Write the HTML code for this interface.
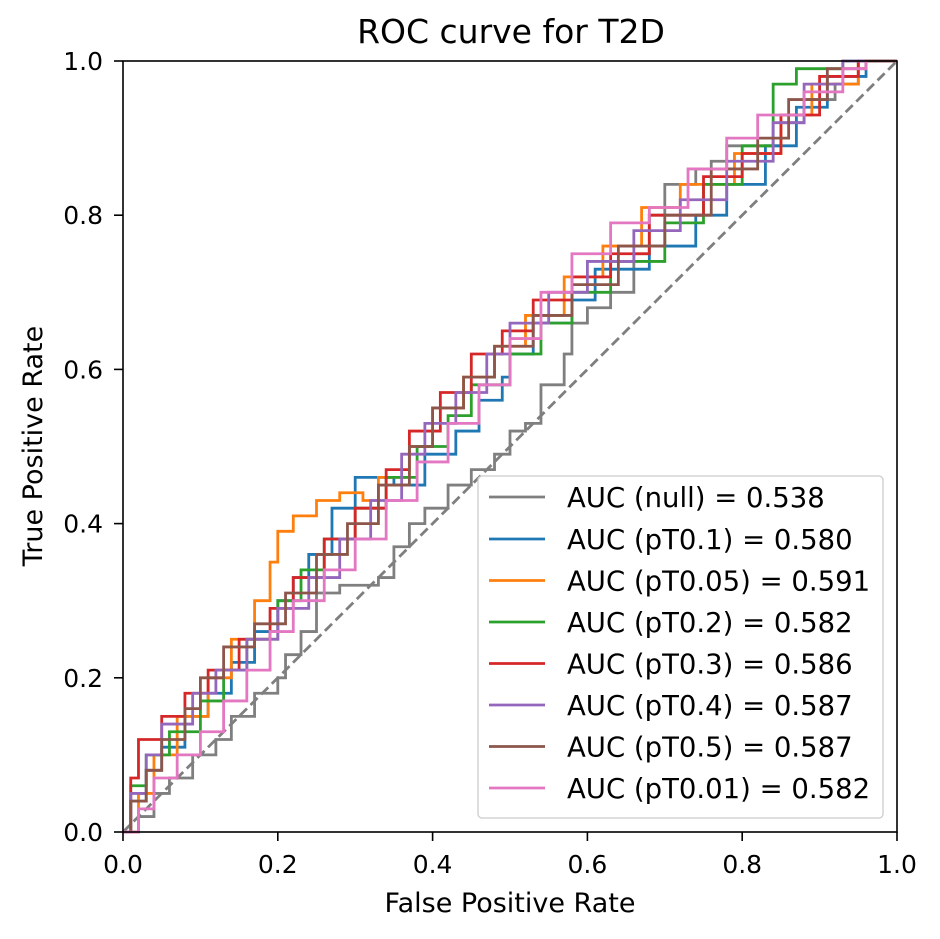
<!DOCTYPE html>
<html><head><meta charset="utf-8"><style>
body{margin:0;background:#fff;}
svg{display:block;font-family:"DejaVu Sans","Liberation Sans",sans-serif;}
</style></head><body>
<svg width="940" height="939" viewBox="0 0 940 939" xmlns="http://www.w3.org/2000/svg">
<rect width="940" height="939" fill="#fff"/>
<text x="511" y="43" font-size="33" text-anchor="middle">ROC curve for T2D</text>
<g transform="translate(123,832) scale(774,-771)" fill="none" stroke-width="2.8" stroke-linejoin="miter">
<polyline vector-effect="non-scaling-stroke" stroke="#7f7f7f" stroke-dasharray="10,5" points="0,0 1,1"/>
<polyline vector-effect="non-scaling-stroke" stroke="#7f7f7f" points="0,0 0.02,0 0.02,0.02 0.04,0.02 0.04,0.05 0.06,0.05 0.06,0.07 0.09,0.07 0.09,0.1 0.12,0.1 0.12,0.12 0.14,0.12 0.14,0.15 0.17,0.15 0.17,0.18 0.2,0.18 0.2,0.2 0.21,0.2 0.21,0.23 0.23,0.23 0.23,0.26 0.25,0.26 0.25,0.28 0.25,0.31 0.28,0.31 0.28,0.32 0.33,0.32 0.33,0.33 0.35,0.33 0.35,0.37 0.37,0.37 0.37,0.4 0.39,0.4 0.39,0.42 0.42,0.42 0.42,0.45 0.45,0.45 0.45,0.47 0.48,0.47 0.48,0.49 0.5,0.49 0.5,0.52 0.52,0.52 0.52,0.53 0.54,0.53 0.54,0.58 0.57,0.58 0.57,0.62 0.58,0.62 0.58,0.66 0.6,0.66 0.6,0.68 0.63,0.68 0.63,0.7 0.66,0.7 0.66,0.75 0.68,0.75 0.68,0.8 0.7,0.8 0.7,0.84 0.74,0.84 0.74,0.86 0.76,0.86 0.76,0.87 0.78,0.87 0.78,0.89 0.85,0.89 0.85,0.92 0.88,0.92 0.88,0.95 0.92,0.95 0.92,0.97 0.95,0.97 0.95,1 1,1"/>
<polyline vector-effect="non-scaling-stroke" stroke="#1f77b4" points="0,0 0.01,0 0.01,0.04 0.03,0.04 0.03,0.08 0.05,0.08 0.05,0.11 0.08,0.11 0.08,0.15 0.11,0.15 0.11,0.18 0.14,0.18 0.14,0.22 0.17,0.22 0.17,0.26 0.2,0.26 0.2,0.3 0.22,0.3 0.22,0.33 0.24,0.33 0.24,0.36 0.27,0.36 0.27,0.42 0.3,0.42 0.3,0.46 0.35,0.46 0.35,0.45 0.39,0.45 0.39,0.49 0.43,0.49 0.43,0.52 0.46,0.52 0.46,0.56 0.49,0.56 0.49,0.59 0.5,0.59 0.5,0.62 0.53,0.62 0.53,0.66 0.58,0.66 0.58,0.69 0.61,0.69 0.61,0.73 0.68,0.73 0.68,0.76 0.74,0.76 0.74,0.8 0.78,0.8 0.78,0.84 0.83,0.84 0.83,0.89 0.87,0.89 0.87,0.94 0.91,0.94 0.91,0.98 0.96,0.98 0.96,1 1,1"/>
<polyline vector-effect="non-scaling-stroke" stroke="#ff7f0e" points="0,0 0.02,0 0.02,0.05 0.04,0.05 0.04,0.1 0.07,0.1 0.07,0.15 0.11,0.15 0.11,0.2 0.14,0.2 0.14,0.25 0.17,0.25 0.17,0.3 0.19,0.3 0.19,0.35 0.2,0.35 0.2,0.39 0.22,0.39 0.22,0.41 0.25,0.41 0.25,0.43 0.28,0.43 0.28,0.44 0.31,0.44 0.31,0.43 0.33,0.43 0.33,0.46 0.37,0.46 0.37,0.5 0.4,0.5 0.4,0.55 0.44,0.55 0.44,0.59 0.48,0.59 0.48,0.63 0.52,0.63 0.52,0.67 0.57,0.67 0.57,0.72 0.62,0.72 0.62,0.76 0.67,0.76 0.67,0.81 0.72,0.81 0.72,0.84 0.79,0.84 0.79,0.88 0.85,0.88 0.85,0.93 0.89,0.93 0.89,0.97 0.95,0.97 0.95,1 1,1"/>
<polyline vector-effect="non-scaling-stroke" stroke="#2ca02c" points="0,0 0.01,0 0.01,0.06 0.03,0.06 0.03,0.1 0.06,0.1 0.06,0.13 0.1,0.13 0.1,0.17 0.13,0.17 0.13,0.21 0.16,0.21 0.16,0.25 0.2,0.25 0.2,0.3 0.23,0.3 0.23,0.34 0.26,0.34 0.26,0.38 0.3,0.38 0.3,0.42 0.34,0.42 0.34,0.46 0.38,0.46 0.38,0.5 0.42,0.5 0.42,0.54 0.45,0.54 0.45,0.58 0.5,0.58 0.5,0.62 0.54,0.62 0.54,0.66 0.58,0.66 0.58,0.7 0.63,0.7 0.63,0.74 0.7,0.74 0.7,0.79 0.75,0.79 0.75,0.84 0.8,0.84 0.8,0.89 0.84,0.89 0.84,0.97 0.87,0.97 0.87,0.99 0.93,0.99 0.93,1 1,1"/>
<polyline vector-effect="non-scaling-stroke" stroke="#d62728" points="0,0 0.01,0 0.01,0.07 0.02,0.07 0.02,0.12 0.05,0.12 0.05,0.15 0.08,0.15 0.08,0.18 0.11,0.18 0.11,0.21 0.15,0.21 0.15,0.25 0.19,0.25 0.19,0.29 0.22,0.29 0.22,0.33 0.26,0.33 0.26,0.38 0.3,0.38 0.3,0.42 0.34,0.42 0.34,0.47 0.37,0.47 0.37,0.52 0.41,0.52 0.41,0.57 0.45,0.57 0.45,0.62 0.49,0.62 0.49,0.65 0.53,0.65 0.53,0.69 0.58,0.69 0.58,0.72 0.63,0.72 0.63,0.75 0.68,0.75 0.68,0.8 0.75,0.8 0.75,0.85 0.8,0.85 0.8,0.88 0.85,0.88 0.85,0.93 0.9,0.93 0.9,0.98 0.95,0.98 0.95,1 1,1"/>
<polyline vector-effect="non-scaling-stroke" stroke="#9467bd" points="0,0 0.01,0 0.01,0.05 0.03,0.05 0.03,0.1 0.05,0.1 0.05,0.14 0.09,0.14 0.09,0.18 0.12,0.18 0.12,0.21 0.16,0.21 0.16,0.25 0.2,0.25 0.2,0.29 0.24,0.29 0.24,0.33 0.28,0.33 0.28,0.38 0.32,0.38 0.32,0.43 0.36,0.43 0.36,0.49 0.39,0.49 0.39,0.53 0.43,0.53 0.43,0.57 0.47,0.57 0.47,0.62 0.5,0.62 0.5,0.66 0.55,0.66 0.55,0.7 0.6,0.7 0.6,0.74 0.66,0.74 0.66,0.78 0.72,0.78 0.72,0.82 0.78,0.82 0.78,0.87 0.84,0.87 0.84,0.92 0.88,0.92 0.88,0.97 0.93,0.97 0.93,1 1,1"/>
<polyline vector-effect="non-scaling-stroke" stroke="#8c564b" points="0,0 0.01,0 0.01,0.04 0.03,0.04 0.03,0.08 0.05,0.08 0.05,0.12 0.08,0.12 0.08,0.16 0.1,0.16 0.1,0.2 0.13,0.2 0.13,0.24 0.17,0.24 0.17,0.27 0.21,0.27 0.21,0.31 0.25,0.31 0.25,0.36 0.29,0.36 0.29,0.4 0.33,0.4 0.33,0.45 0.37,0.45 0.37,0.5 0.4,0.5 0.4,0.55 0.44,0.55 0.44,0.59 0.48,0.59 0.48,0.63 0.53,0.63 0.53,0.67 0.58,0.67 0.58,0.71 0.64,0.71 0.64,0.76 0.7,0.76 0.7,0.8 0.76,0.8 0.76,0.86 0.82,0.86 0.82,0.9 0.86,0.9 0.86,0.95 0.91,0.95 0.91,0.99 0.96,0.99 0.96,1 1,1"/>
<polyline vector-effect="non-scaling-stroke" stroke="#e377c2" points="0,0 0.02,0 0.02,0.03 0.04,0.03 0.04,0.07 0.07,0.07 0.07,0.1 0.1,0.1 0.1,0.13 0.13,0.13 0.13,0.17 0.16,0.17 0.16,0.21 0.19,0.21 0.19,0.26 0.22,0.26 0.22,0.3 0.26,0.3 0.26,0.34 0.3,0.34 0.3,0.38 0.34,0.38 0.34,0.43 0.38,0.43 0.38,0.48 0.42,0.48 0.42,0.53 0.46,0.53 0.46,0.58 0.5,0.58 0.5,0.64 0.54,0.64 0.54,0.7 0.58,0.7 0.58,0.75 0.63,0.75 0.63,0.79 0.68,0.79 0.68,0.81 0.73,0.81 0.73,0.86 0.78,0.86 0.78,0.9 0.82,0.9 0.82,0.93 0.88,0.93 0.88,0.96 0.93,0.96 0.93,0.99 0.96,0.99 0.96,1"/>
</g>
<rect x="123" y="61" width="774" height="771" fill="none" stroke="#000" stroke-width="1.6"/>
<g stroke="#000" stroke-width="1.6">
<line x1="123" y1="832" x2="123" y2="841"/><line x1="277.8" y1="832" x2="277.8" y2="841"/><line x1="432.6" y1="832" x2="432.6" y2="841"/><line x1="587.4" y1="832" x2="587.4" y2="841"/><line x1="742.2" y1="832" x2="742.2" y2="841"/><line x1="897" y1="832" x2="897" y2="841"/>
<line x1="114" y1="832" x2="123" y2="832"/><line x1="114" y1="677.8" x2="123" y2="677.8"/><line x1="114" y1="523.6" x2="123" y2="523.6"/><line x1="114" y1="369.4" x2="123" y2="369.4"/><line x1="114" y1="215.2" x2="123" y2="215.2"/><line x1="114" y1="61" x2="123" y2="61"/>
</g>
<g font-size="25" text-anchor="middle">
<text x="123" y="873">0.0</text><text x="277.8" y="873">0.2</text><text x="432.6" y="873">0.4</text><text x="587.4" y="873">0.6</text><text x="742.2" y="873">0.8</text><text x="897" y="873">1.0</text>
</g>
<text x="510" y="912" font-size="27" text-anchor="middle">False Positive Rate</text>
<g font-size="25" text-anchor="end">
<text x="103" y="841">0.0</text><text x="103" y="686.8">0.2</text><text x="103" y="532.6">0.4</text><text x="103" y="378.4">0.6</text><text x="103" y="224.2">0.8</text><text x="103" y="70">1.0</text>
</g>
<text x="0" y="0" font-size="27" text-anchor="middle" transform="translate(42,446) rotate(-90)">True Positive Rate</text>
<rect x="478" y="476" width="405" height="342" rx="4" fill="#fff" fill-opacity="0.85" stroke="#ccc" stroke-width="1.3"/>
<g stroke-width="2.8">
<line x1="489" x2="545" y1="497" y2="497" stroke="#7f7f7f"/>
<line x1="489" x2="545" y1="539" y2="539" stroke="#1f77b4"/>
<line x1="489" x2="545" y1="580.5" y2="580.5" stroke="#ff7f0e"/>
<line x1="489" x2="545" y1="622" y2="622" stroke="#2ca02c"/>
<line x1="489" x2="545" y1="663.5" y2="663.5" stroke="#d62728"/>
<line x1="489" x2="545" y1="705" y2="705" stroke="#9467bd"/>
<line x1="489" x2="545" y1="746.5" y2="746.5" stroke="#8c564b"/>
<line x1="489" x2="545" y1="788" y2="788" stroke="#e377c2"/>
</g>
<g font-size="27.5">
<text x="567" y="507">AUC (null) = 0.538</text>
<text x="567" y="549">AUC (pT0.1) = 0.580</text>
<text x="567" y="590.5">AUC (pT0.05) = 0.591</text>
<text x="567" y="632">AUC (pT0.2) = 0.582</text>
<text x="567" y="673.5">AUC (pT0.3) = 0.586</text>
<text x="567" y="715">AUC (pT0.4) = 0.587</text>
<text x="567" y="756.5">AUC (pT0.5) = 0.587</text>
<text x="567" y="798">AUC (pT0.01) = 0.582</text>
</g>
</svg>
</body></html>
